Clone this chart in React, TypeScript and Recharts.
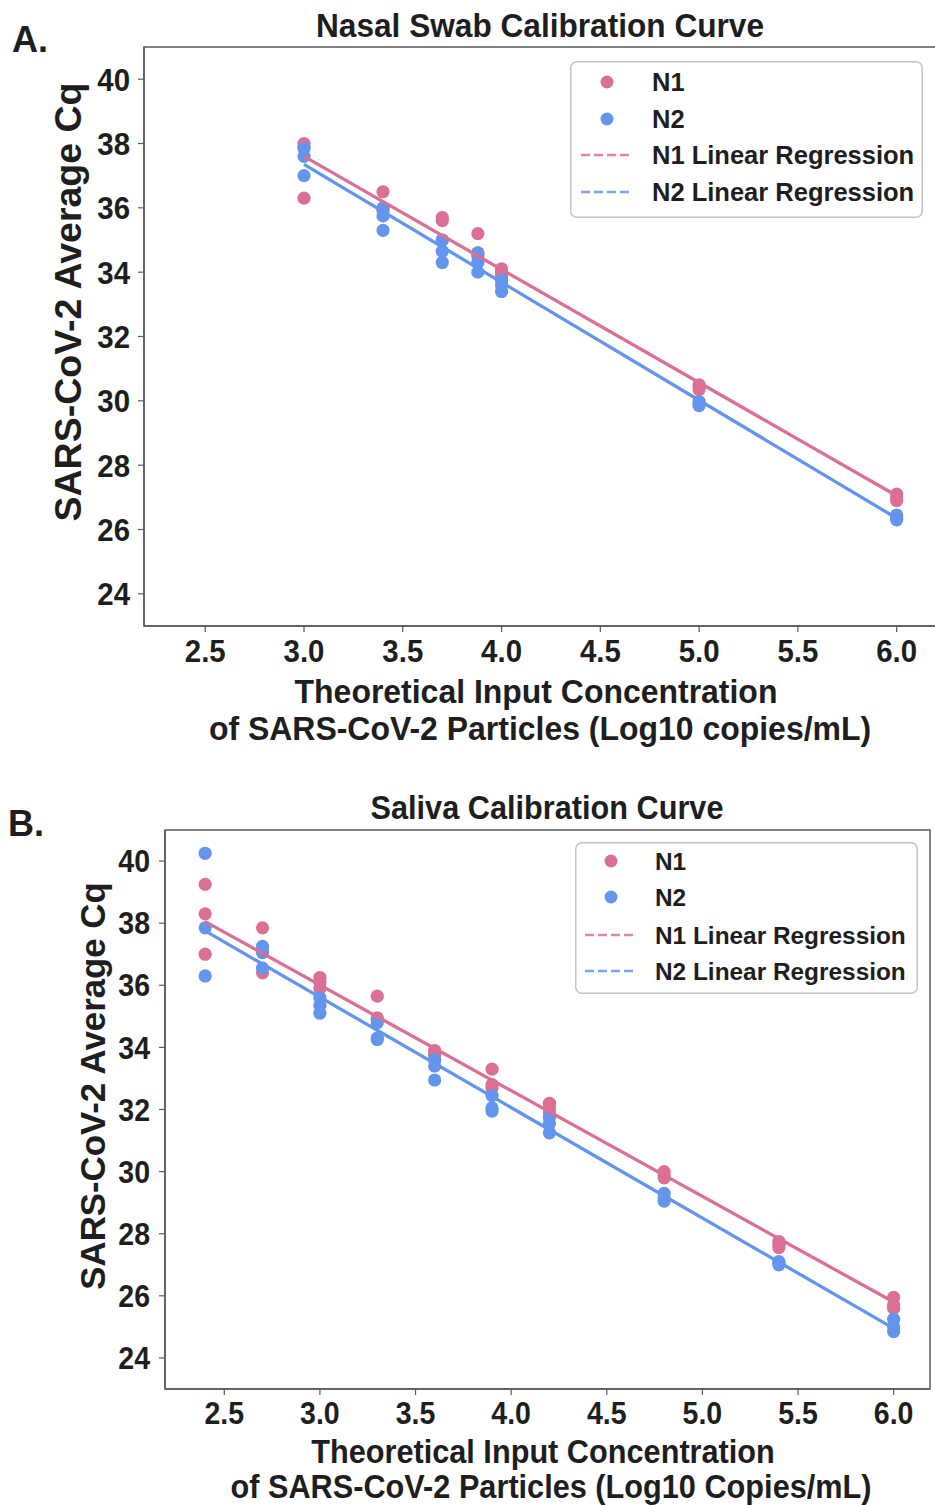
import React from 'react';
import { ScatterChart, Scatter, XAxis, YAxis, ReferenceArea, Legend } from 'recharts';

const PINK = '#db7093';
const BLUE = '#6495ed';
const FONT = '"Liberation Sans", Arial, Helvetica, sans-serif';
const INK = '#1e1e1e';
const AXIS = '#5a5a5a';

// ---------- Panel A: Nasal swab ----------
const nasalX = [3.0, 3.4, 3.7, 3.88, 4.0, 5.0, 6.0];
const nasalN1 = [
  [38.0, 37.9, 36.3],
  [36.5, 35.95, 35.9],
  [35.7, 35.6, 35.0],
  [35.2, 34.6, 34.5],
  [34.1, 34.0, 33.9],
  [30.5, 30.45, 30.35],
  [27.1, 27.0, 26.9],
];
const nasalN2 = [
  [37.85, 37.6, 37.0],
  [36.0, 35.75, 35.3],
  [35.0, 34.65, 34.3],
  [34.6, 34.3, 34.0],
  [33.75, 33.6, 33.4],
  [29.98, 29.9, 29.85],
  [26.45, 26.35, 26.3],
];
const nasalRegX = [3.0, 6.0];
const nasalRegN1 = [37.6, 27.05];
const nasalRegN2 = [37.35, 26.35];
const nasalXTicks = [2.5, 3.0, 3.5, 4.0, 4.5, 5.0, 5.5, 6.0];
const nasalXDomain = [2.19, 6.27];

// ---------- Panel B: Saliva ----------
const salivaX = [2.4, 2.7, 3.0, 3.3, 3.6, 3.9, 4.2, 4.8, 5.4, 6.0];
const salivaN1 = [
  [39.25, 38.3, 37.0],
  [37.85, 37.1, 36.4],
  [36.25, 36.1, 35.9],
  [35.65, 34.95, 34.9],
  [33.9, 33.75, 33.6],
  [33.3, 32.8, 32.7],
  [32.2, 32.05, 31.9],
  [30.0, 29.9, 29.8],
  [27.75, 27.65, 27.55],
  [25.95, 25.7, 25.6],
];
const salivaN2 = [
  [40.25, 37.85, 36.3],
  [37.25, 37.05, 36.55],
  [35.6, 35.35, 35.1],
  [34.8, 34.3, 34.25],
  [33.6, 33.4, 32.95],
  [32.45, 32.05, 31.95],
  [31.75, 31.55, 31.25],
  [29.3, 29.15, 29.05],
  [27.1, 27.05, 27.0],
  [25.25, 25.0, 24.85],
];
const salivaRegX = [2.4, 6.0];
const salivaRegN1 = [38.05, 25.8];
const salivaRegN2 = [37.75, 24.95];
const salivaXTicks = [2.5, 3.0, 3.5, 4.0, 4.5, 5.0, 5.5, 6.0];
const salivaXDomain = [2.19, 6.19];

const yTicks = [24, 26, 28, 30, 32, 34, 36, 38, 40];
const yDomain = [23, 41];

const legendLabels = ['N1', 'N2', 'N1 Linear Regression', 'N2 Linear Regression'];

const toPoints = (xs: number[], reps: number[][]) =>
  xs.flatMap((x, i) => reps[i].map((y) => ({ x, y })));
const toLine = (xs: number[], ys: number[]) => xs.map((x, i) => ({ x, y: ys[i] }));

const makeDot = (color: string) => (props: any) =>
  <circle cx={props.cx} cy={props.cy} r={6.6} fill={color} />;
const noDot = () => <g />;

const makeYTick = (fs: number, sx: number) => (props: any) => {
  const { x, y, payload } = props;
  return (
    <text transform={`translate(${x},${y + fs * 0.36}) scale(${sx},1)`} textAnchor="end"
      fontSize={fs} fontWeight="bold" fontFamily={FONT} fill={INK}>{payload.value}</text>
  );
};
const makeXTick = (fs: number, sx: number, dy: number) => (props: any) => {
  const { x, y, payload } = props;
  return (
    <text transform={`translate(${x},${y + dy}) scale(${sx},1)`} textAnchor="middle"
      fontSize={fs} fontWeight="bold" fontFamily={FONT} fill={INK}>{Number(payload.value).toFixed(1)}</text>
  );
};

const LegendBox = ({ w, h, rows, fs, dotX, textX }: any) => (
  <svg width={w} height={h} style={{ display: 'block' }}>
    <rect x={0.75} y={0.75} width={w - 1.5} height={h - 1.5} rx={6} fill="white" fillOpacity={0.85}
      stroke="#c4c4c4" strokeWidth={1.5} />
    {legendLabels.map((lab, i) => {
      const cy = rows[i];
      const color = i % 2 === 0 ? PINK : BLUE;
      return (
        <g key={lab}>
          {i < 2 ? (
            <circle cx={dotX} cy={cy} r={6.5} fill={color} />
          ) : (
            <line x1={dotX - 26} x2={dotX + 24} y1={cy} y2={cy} stroke={color} strokeOpacity={0.85}
              strokeWidth={2.5} strokeDasharray="9 4" />
          )}
          <text x={textX} y={cy + fs * 0.36} fontSize={fs} fontWeight="bold" fontFamily={FONT} fill={INK}>{lab}</text>
        </g>
      );
    })}
  </svg>
);

const Txt = ({ x, y, fs, sx = 1, anchor = 'middle', children }: any) => (
  <text transform={`translate(${x},${y}) scale(${sx},1)`} textAnchor={anchor}
    fontSize={fs} fontWeight="bold" fontFamily={FONT} fill={INK}>{children}</text>
);

const Panel = ({ width, height, margin, yAxisWidth, xAxisHeight, xDomain, xTicks, xs, n1, n2, regX, regN1, regN2,
  tickFs, tickSx, tickDy, tickMarginY, legend }: any) => (
  <ScatterChart width={width} height={height} margin={margin}>
    <XAxis type="number" dataKey="x" domain={xDomain} ticks={xTicks} allowDataOverflow height={xAxisHeight}
      axisLine={{ stroke: AXIS, strokeWidth: 1.5 }} tickLine={{ stroke: AXIS, strokeWidth: 1.2 }} tickSize={6}
      tickMargin={2} tick={makeXTick(tickFs, tickSx, tickDy)} interval={0} />
    <YAxis type="number" dataKey="y" domain={yDomain} ticks={yTicks} allowDataOverflow width={yAxisWidth}
      axisLine={{ stroke: AXIS, strokeWidth: 1.5 }} tickLine={{ stroke: AXIS, strokeWidth: 1.2 }} tickSize={6}
      tickMargin={tickMarginY} tick={makeYTick(tickFs, tickSx)} interval={0} />
    <ReferenceArea x1={xDomain[0]} x2={xDomain[1]} y1={yDomain[0]} y2={yDomain[1]} fill="none" fillOpacity={0}
      stroke={AXIS} strokeWidth={1.5} ifOverflow="visible" />
    <Scatter name="N1" data={toPoints(xs, n1)} shape={makeDot(PINK)} isAnimationActive={false} legendType="none" />
    <Scatter name="N2" data={toPoints(xs, n2)} shape={makeDot(BLUE)} isAnimationActive={false} legendType="none" />
    <Scatter name="N1 Linear Regression" data={toLine(regX, regN1)} line={{ stroke: PINK, strokeWidth: 3.3 }}
      shape={noDot} isAnimationActive={false} legendType="none" />
    <Scatter name="N2 Linear Regression" data={toLine(regX, regN2)} line={{ stroke: BLUE, strokeWidth: 3.3 }}
      shape={noDot} isAnimationActive={false} legendType="none" />
    <Legend layout="vertical" align="center" verticalAlign="middle"
      wrapperStyle={{ position: 'absolute', left: legend.left, top: legend.top, width: legend.w, height: legend.h, margin: 0 }}
      content={() => <LegendBox {...legend} />} />
  </ScatterChart>
);

export default function App() {
  return (
    <div style={{ position: 'absolute', left: 0, top: 0, width: 935, height: 1505, overflow: 'hidden', background: 'white' }}>
      <div style={{ position: 'absolute', left: 0, top: 0 }}>
        <Panel width={960} height={760} margin={{ top: 47, right: 10, bottom: 0, left: 0 }} yAxisWidth={144}
          xAxisHeight={134} xDomain={nasalXDomain} xTicks={nasalXTicks} xs={nasalX} n1={nasalN1} n2={nasalN2}
          regX={nasalRegX} regN1={nasalRegN1} regN2={nasalRegN2} tickFs={32} tickSx={0.92} tickDy={28} tickMarginY={8}
          legend={{ left: 570, top: 61, w: 353, h: 157, rows: [21, 58, 94, 131], fs: 25.5, dotX: 37, textX: 82 }} />
      </div>
      <div style={{ position: 'absolute', left: 0, top: 780 }}>
        <Panel width={935} height={725} margin={{ top: 50, right: 5, bottom: 0, left: 0 }} yAxisWidth={165}
          xAxisHeight={116} xDomain={salivaXDomain} xTicks={salivaXTicks} xs={salivaX} n1={salivaN1} n2={salivaN2}
          regX={salivaRegX} regN1={salivaRegN1} regN2={salivaRegN2} tickFs={31} tickSx={0.92} tickDy={27} tickMarginY={9}
          legend={{ left: 575, top: 62, w: 343, h: 152, rows: [19, 55, 93, 129], fs: 24.4, dotX: 36, textX: 80 }} />
      </div>
      <svg width={935} height={1505} style={{ position: 'absolute', left: 0, top: 0, pointerEvents: 'none' }}>
        <Txt x={12} y={52} fs={36} anchor="start">A.</Txt>
        <Txt x={8} y={836} fs={36} anchor="start">B.</Txt>
        <Txt x={540} y={37} fs={34} sx={0.93}>Nasal Swab Calibration Curve</Txt>
        <Txt x={547} y={819} fs={33} sx={0.93}>Saliva Calibration Curve</Txt>
        <Txt x={536} y={703} fs={34} sx={0.94}>Theoretical Input Concentration</Txt>
        <Txt x={540} y={740} fs={34} sx={0.94}>of SARS-CoV-2 Particles (Log10 copies/mL)</Txt>
        <Txt x={543} y={1463} fs={33} sx={0.93}>Theoretical Input Concentration</Txt>
        <Txt x={551} y={1498} fs={33} sx={0.93}>of SARS-CoV-2 Particles (Log10 Copies/mL)</Txt>
        <g transform="translate(67,302) rotate(-90)">
          <text x={0} y={37.5 * 0.36} textAnchor="middle" fontSize={37.5} fontWeight="bold" fontFamily={FONT} fill={INK}>SARS-CoV-2 Average Cq</text>
        </g>
        <g transform="translate(92,1086) rotate(-90)">
          <text x={0} y={34.8 * 0.36} textAnchor="middle" fontSize={34.8} fontWeight="bold" fontFamily={FONT} fill={INK}>SARS-CoV-2 Average Cq</text>
        </g>
      </svg>
    </div>
  );
}
